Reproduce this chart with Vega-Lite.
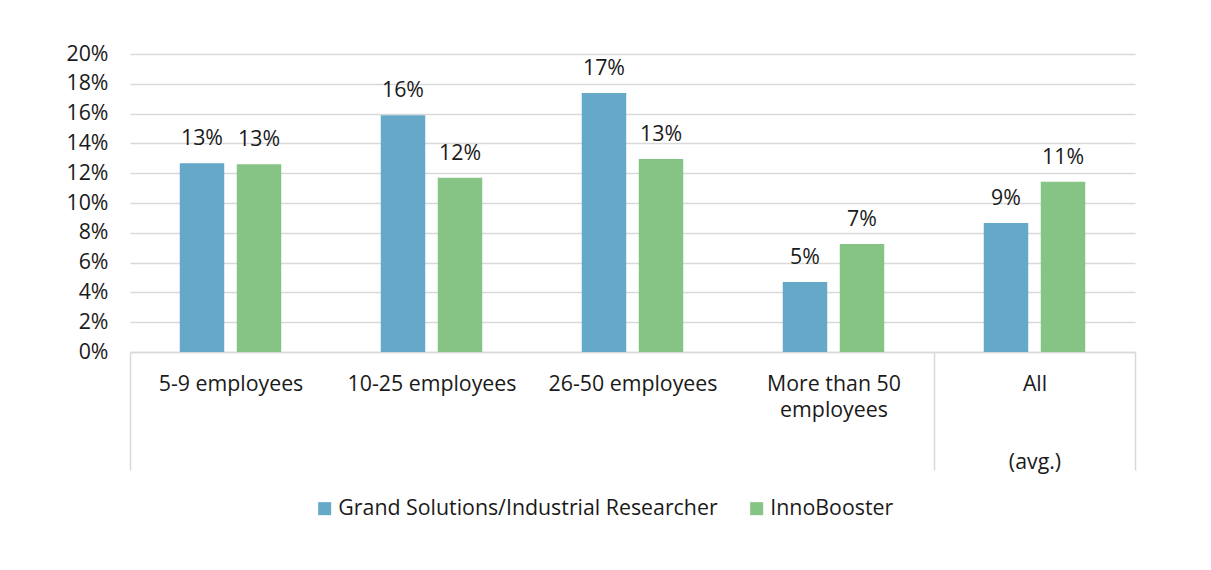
{
  "$schema": "https://vega.github.io/schema/vega-lite/v6.json",
  "width": 1005,
  "height": 298,
  "autosize": {"type": "none"},
  "padding": {"left": 130, "top": 54, "right": 76, "bottom": 218},
  "background": "white",
  "config": {
    "font": "Open Sans",
    "view": {"stroke": null},
    "text": {"font": "Open Sans"}
  },
  "data": {
    "values": [
      {"group": "5-9 employees", "program": "Grand Solutions/Industrial Researcher", "value": 0.1266},
      {"group": "5-9 employees", "program": "InnoBooster", "value": 0.126},
      {"group": "10-25 employees", "program": "Grand Solutions/Industrial Researcher", "value": 0.1589},
      {"group": "10-25 employees", "program": "InnoBooster", "value": 0.117},
      {"group": "26-50 employees", "program": "Grand Solutions/Industrial Researcher", "value": 0.1738},
      {"group": "26-50 employees", "program": "InnoBooster", "value": 0.1295},
      {"group": "More than 50 employees", "program": "Grand Solutions/Industrial Researcher", "value": 0.047},
      {"group": "More than 50 employees", "program": "InnoBooster", "value": 0.0725},
      {"group": "All", "program": "Grand Solutions/Industrial Researcher", "value": 0.0866},
      {"group": "All", "program": "InnoBooster", "value": 0.1143}
    ]
  },
  "encoding": {
    "x": {
      "field": "group",
      "type": "nominal",
      "sort": null,
      "scale": {"paddingInner": 0, "paddingOuter": 0},
      "axis": {
        "title": null,
        "labelAngle": 0,
        "labelFontSize": 21.33,
        "labelColor": "#1a1a1a",
        "labelFont": "Open Sans",
        "labelLineHeight": 26,
        "labelBaseline": "top",
        "labelPadding": -97,
        "labelExpr": "datum.value == 'More than 50 employees' ? ['More than 50', 'employees'] : datum.value == 'All' ? ['All', '\u200b', '\u200b', '(avg.)'] : datum.label",
        "tickBand": "extent",
        "tickSize": 118,
        "tickWidth": 1.5,
        "tickColor": {"condition": {"test": "datum.value == '5-9 employees' || datum.value == '10-25 employees' || datum.value == '26-50 employees'", "value": "transparent"}, "value": "#d9d9d9"},
        "domainColor": "#d9d9d9",
        "domainWidth": 1.5,
        "grid": false,
        "labelLimit": 300
      }
    },
    "y": {
      "field": "value",
      "type": "quantitative",
      "scale": {"domain": [0, 0.2], "nice": false},
      "axis": {
        "title": null,
        "values": [0, 0.02, 0.04, 0.06, 0.08, 0.1, 0.12, 0.14, 0.16, 0.18, 0.2],
        "format": ".0%",
        "labelFontSize": 21.33,
        "labelColor": "#1a1a1a",
        "labelFont": "Open Sans",
        "labelPadding": 22,
        "ticks": false,
        "domain": false,
        "grid": true,
        "gridColor": "#d9d9d9",
        "gridWidth": 1.5
      }
    },
    "xOffset": {
      "field": "program",
      "type": "nominal",
      "sort": ["Grand Solutions/Industrial Researcher", "InnoBooster"],
      "scale": {"paddingInner": 0.22, "paddingOuter": 0.873}
    }
  },
  "layer": [
    {
      "mark": {"type": "bar"},
      "encoding": {
        "color": {
          "field": "program",
          "type": "nominal",
          "sort": ["Grand Solutions/Industrial Researcher", "InnoBooster"],
          "scale": {"domain": ["Grand Solutions/Industrial Researcher", "InnoBooster"], "range": ["#65a8c8", "#86c485"]},
          "legend": {
            "title": null,
            "orient": "none",
            "direction": "horizontal",
            "legendX": 184,
            "legendY": 444,
            "symbolType": "square",
            "symbolSize": 169,
            "symbolStrokeWidth": 0,
            "labelFontSize": 21.33,
            "labelFont": "Open Sans",
            "labelColor": "#1a1a1a",
            "labelOffset": 3,
            "columnPadding": 28,
            "labelLimit": 500
          }
        }
      }
    },
    {
      "mark": {"type": "text", "fontSize": 21.33, "color": "#1a1a1a", "baseline": "alphabetic", "dy": -18},
      "encoding": {
        "text": {"field": "value", "type": "quantitative", "format": ".0%"}
      }
    }
  ]
}
